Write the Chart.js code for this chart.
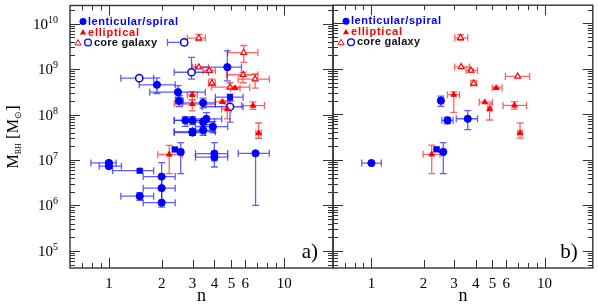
<!DOCTYPE html>
<html>
<head>
<meta charset="utf-8">
<script src="https://cdn.jsdelivr.net/npm/chart.js@4.4.0/dist/chart.umd.min.js"></script>
<style>
  html, body { margin: 0; padding: 0; background: #fff; }
  #wrap { position: relative; width: 598px; height: 305px; }
  #wrap canvas { position: absolute; left: 0; top: 0; }
</style>
</head>
<body>
<div id="wrap">
  <canvas id="panelA" width="598" height="305"></canvas>
  <canvas id="panelB" width="598" height="305"></canvas>
</div>
<script>
// each row: [n, nLo, nHi, M, MLo, MHi]
// panel a
const spiralA = [
  [1.0, 0.79, 1.10, 8.6e6, 7.6e6, 9.6e6],
  [1.0, 0.88, 1.18, 7.3e6, 6.6e6, 8.2e6],
  [1.5, 1.17, 1.80, 1.6e6, 1.3e6, 1.9e6],
  [2.0, 1.57, 2.39, 4.3e6, 2.4e6, 8.7e6],
  [2.0, 1.57, 2.39, 2.4e6, 1.2e6, 4.4e6],
  [2.0, 1.57, 2.39, 1.15e6, 0.92e6, 2.4e6],
  [2.57, 2.50, 2.65, 1.49e7, 5.0e6, 2.4e7],
  [4.0, 3.12, 4.76, 1.38e7, 9.5e6, 2.4e7],
  [4.0, 3.12, 4.76, 1.15e7, 7.0e6, 1.5e7],
  [6.87, 5.47, 8.23, 1.4e7, 1.0e6, 1.45e7],
  [1.88, 1.49, 2.39, 4.5e8, 2.9e8, 6.4e8],
  [2.48, 1.71, 3.55, 3.1e8, 2.4e8, 4.3e8],
  [2.52, 2.40, 2.65, 2.0e8, 1.5e8, 2.6e8],
  [3.45, 2.63, 4.05, 1.8e8, 1.4e8, 2.3e8],
  [4.74, 3.12, 5.71, 1.1e9, 5.5e8, 2.5e9],
  [2.73, 2.36, 3.40, 7.4e7, 5.5e7, 9.0e7],
  [3.0, 2.36, 3.55, 7.4e7, 6.0e7, 9.0e7],
  [3.0, 2.36, 4.05, 4.2e7, 3.5e7, 4.8e7],
  [3.0, 2.36, 3.55, 4.0e7, 3.5e7, 4.6e7],
  [3.45, 3.0, 4.0, 4.5e7, 3.5e7, 5.5e7],
  [3.45, 2.8, 4.0, 6.8e7, 5.5e7, 8.0e7],
  [3.6, 3.0, 4.4, 8.0e7, 6.0e7, 1.1e8],
  [3.92, 3.12, 4.76, 5.4e7, 4.0e7, 7.0e7]
];
const spiralBoxA = [
  [1.5, 1.05, 1.80, 5.8e6, 5.3e6, 6.3e6],
  [2.38, 2.30, 2.45, 1.7e7, 1.6e7, 1.8e7],
  [4.91, 4.05, 5.83, 2.4e8, 2.0e8, 2.8e8]
];
const coreDiskA = [
  [1.49, 1.17, 1.80, 6.3e8, 6.0e8, 6.6e8],
  [2.69, 2.16, 2.80, 3.85e9, 3.7e9, 4.0e9],
  [2.96, 2.36, 3.70, 8.5e8, 6.0e8, 1.8e9],
  [4.91, 3.40, 5.83, 1.48e8, 6.8e7, 2.0e8]
];
const ellipA = [
  [2.21, 1.90, 2.63, 1.32e7, 5.0e6, 2.1e7],
  [2.99, 2.80, 3.20, 2.7e8, 2.1e8, 3.2e8],
  [2.99, 2.36, 4.05, 1.7e8, 1.2e8, 2.1e8],
  [4.45, 4.05, 4.80, 1.9e8, 1.8e8, 2.0e8],
  [4.74, 4.40, 5.00, 1.32e8, 8.0e7, 1.7e8],
  [5.24, 4.95, 5.60, 3.8e8, 3.6e8, 4.0e8],
  [6.64, 5.71, 7.72, 1.57e8, 1.3e8, 1.9e8],
  [7.15, 6.90, 7.40, 3.9e7, 3.0e7, 6.5e7]
];
const coreEllipA = [
  [3.26, 2.80, 3.55, 4.8e9, 4.2e9, 5.8e9],
  [3.26, 3.00, 3.70, 1.1e9, 1.05e9, 1.15e9],
  [3.74, 3.45, 4.05, 9.2e8, 8.5e8, 1.0e9],
  [3.87, 3.70, 4.05, 4.9e8, 4.3e8, 6.0e8],
  [4.91, 3.85, 6.36, 4.0e8, 3.6e8, 5.0e8],
  [5.88, 4.76, 7.08, 2.3e9, 1.4e9, 3.3e9],
  [5.83, 4.70, 7.08, 7.5e8, 5.0e8, 8.5e8],
  [6.83, 5.47, 8.23, 6.0e8, 3.8e8, 7.8e8]
];
// panel b
const spiralB = [
  [1.0, 0.88, 1.14, 8.5e6, 8.5e6, 8.5e6],
  [2.6, 2.55, 2.65, 1.49e7, 5.0e6, 2.4e7],
  [2.52, 2.45, 2.60, 2.0e8, 1.5e8, 2.5e8],
  [2.75, 2.55, 2.96, 7.4e7, 6.2e7, 8.6e7],
  [3.6, 3.09, 4.10, 8.0e7, 4.6e7, 1.2e8]
];
const spiralBoxB = [
  [2.38, 2.30, 2.45, 1.7e7, 1.6e7, 1.8e7]
];
const coreDiskB = [];
const ellipB = [
  [2.23, 1.99, 2.49, 1.32e7, 5.0e6, 2.1e7],
  [2.99, 2.75, 3.23, 2.7e8, 1.1e8, 3.1e8],
  [4.52, 4.20, 4.99, 1.85e8, 1.8e8, 1.9e8],
  [4.82, 4.70, 4.95, 1.32e8, 7.5e7, 1.7e8],
  [5.26, 4.99, 5.68, 3.8e8, 3.6e8, 4.0e8],
  [6.7, 5.76, 7.87, 1.57e8, 1.3e8, 1.9e8],
  [7.22, 7.00, 7.45, 3.9e7, 3.0e7, 6.5e7]
];
const coreEllipB = [
  [3.27, 3.03, 3.60, 4.8e9, 4.2e9, 5.6e9],
  [3.3, 3.03, 3.68, 1.1e9, 1.05e9, 1.15e9],
  [3.76, 3.52, 4.10, 9.2e8, 8.5e8, 1.0e9],
  [3.9, 3.75, 4.05, 4.8e8, 4.3e8, 5.6e8],
  [7.0, 5.94, 8.20, 6.8e8, 6.5e8, 7.1e8]
];

const nTicks = [1, 2, 3, 4, 5, 6, 10];
const mExponents = [5, 6, 7, 8, 9, 10];
const nRange = [0.63, 19];
const mRange = [4.2e4, 2.5e10];

const BLUE = '#0000ff', RED = '#ff0000';
const BLUE_ERR = 'rgba(30,30,255,0.72)', RED_ERR = 'rgba(255,40,40,0.72)';
const INK = '#333';

function makeSets(spiral, spiralBox, coreDisk, ellip, coreEllip) {
  const pts = rows => rows.map(r => ({ x: r[0], y: r[3] }));
  return [
    { rows: ellip, errColor: RED_ERR, data: pts(ellip), pointStyle: 'triangle', pointRadius: 3.2,
      backgroundColor: RED, borderColor: RED, borderWidth: 1 },
    { rows: coreEllip, errColor: RED_ERR, data: pts(coreEllip), pointStyle: 'triangle', pointRadius: 3.4,
      backgroundColor: '#fff', borderColor: RED, borderWidth: 1.2 },
    { rows: spiral, errColor: BLUE_ERR, data: pts(spiral), pointStyle: 'circle', pointRadius: 3.6,
      backgroundColor: BLUE, borderColor: BLUE, borderWidth: 1 },
    { rows: spiralBox, errColor: BLUE_ERR, data: pts(spiralBox), pointStyle: 'rect', pointRadius: 3.6,
      backgroundColor: BLUE, borderColor: BLUE, borderWidth: 1 },
    { rows: coreDisk, errColor: BLUE_ERR, data: pts(coreDisk), pointStyle: 'circle', pointRadius: 3.6,
      backgroundColor: '#fff', borderColor: BLUE, borderWidth: 1.5 }
  ];
}

function tri(ctx, x, y, r, fill) {
  ctx.beginPath();
  ctx.moveTo(x, y - r);
  ctx.lineTo(x + r * 0.9, y + r * 0.6);
  ctx.lineTo(x - r * 0.9, y + r * 0.6);
  ctx.closePath();
  if (fill) ctx.fill(); else ctx.stroke();
}

// legend text spread to the width it has in the original, one glyph at a time
function spacedText(ctx, text, x, y, width) {
  const w = ctx.measureText(text).width;
  const extra = Math.max(0, (width - w) / (text.length - 1));
  let cx = x;
  for (const ch of text) {
    ctx.fillText(ch, cx, y);
    cx += ctx.measureText(ch).width + extra;
  }
}

const panelPlugin = {
  id: 'panel',
  beforeDatasetsDraw(chart) {
    const { ctx, scales: { x, y } } = chart;
    ctx.save();
    ctx.lineWidth = 1.3;
    chart.data.datasets.forEach(ds => {
      ctx.strokeStyle = ds.errColor;
      ds.rows.forEach(r => {
        const px = x.getPixelForValue(r[0]), py = y.getPixelForValue(r[3]);
        const x1 = x.getPixelForValue(r[1]), x2 = x.getPixelForValue(r[2]);
        const y1 = y.getPixelForValue(r[4]), y2 = y.getPixelForValue(r[5]);
        ctx.beginPath();
        if (x2 - x1 > 2) {
          ctx.moveTo(x1, py); ctx.lineTo(x2, py);
          ctx.moveTo(x1, py - 3.5); ctx.lineTo(x1, py + 3.5);
          ctx.moveTo(x2, py - 3.5); ctx.lineTo(x2, py + 3.5);
        }
        if (y1 - y2 > 2) {
          ctx.moveTo(px, y1); ctx.lineTo(px, y2);
          ctx.moveTo(px - 3.5, y1); ctx.lineTo(px + 3.5, y1);
          ctx.moveTo(px - 3.5, y2); ctx.lineTo(px + 3.5, y2);
        }
        ctx.stroke();
      });
    });
    ctx.restore();
  },
  afterDraw(chart, args, opts) {
    const { ctx, chartArea: a, scales: { x, y } } = chart;
    ctx.save();
    // frame
    ctx.strokeStyle = INK;
    ctx.lineWidth = 1.4;
    ctx.strokeRect(a.left, a.top, a.right - a.left, a.bottom - a.top);
    // ticks, inward on all sides
    ctx.lineWidth = 1;
    ctx.beginPath();
    for (let d = -1; d <= 1; d++) {
      for (let k = 1; k <= 9; k++) {
        const v = k * Math.pow(10, d);
        if (v < nRange[0] || v > nRange[1]) continue;
        const px = Math.round(x.getPixelForValue(v)) + 0.5;
        const bottomLen = k === 1 ? 10 : (nTicks.includes(v) ? 8 : 5);
        const topLen = k === 1 ? 10 : 5;
        ctx.moveTo(px, a.bottom); ctx.lineTo(px, a.bottom - bottomLen);
        ctx.moveTo(px, a.top); ctx.lineTo(px, a.top + topLen);
      }
    }
    for (let d = 4; d <= 10; d++) {
      for (let k = 1; k <= 9; k++) {
        const v = k * Math.pow(10, d);
        if (v < mRange[0] || v > mRange[1]) continue;
        const py = Math.round(y.getPixelForValue(v)) + 0.5;
        const len = k === 1 ? 10 : 5;
        ctx.moveTo(a.left, py); ctx.lineTo(a.left + len, py);
        ctx.moveTo(a.right, py); ctx.lineTo(a.right - len, py);
      }
    }
    ctx.stroke();

    // x tick labels
    ctx.fillStyle = '#000';
    ctx.font = '15px "Liberation Serif"';
    ctx.textAlign = 'center';
    ctx.textBaseline = 'alphabetic';
    nTicks.forEach(v => ctx.fillText(String(v), x.getPixelForValue(v), a.bottom + 20));
    ctx.font = '18px "Liberation Serif"';
    ctx.fillText('n', (a.left + a.right) / 2, a.bottom + 33);

    // panel tag
    ctx.textAlign = 'right';
    ctx.font = '21px "Liberation Serif"';
    ctx.fillText(opts.tag, a.right - 15, a.bottom - 10);

    if (opts.yLabels) {
      mExponents.forEach(e => {
        const py = y.getPixelForValue(Math.pow(10, e));
        ctx.font = '10px "Liberation Serif"';
        ctx.textAlign = 'right';
        const ew = ctx.measureText(String(e)).width;
        ctx.fillText(String(e), a.left - 12, py - 1);
        ctx.font = '15px "Liberation Serif"';
        ctx.fillText('10', a.left - 12 - ew, py + 5);
      });
      // axis title M_BH [M_sun]
      ctx.save();
      ctx.translate(18, 137);
      ctx.rotate(-Math.PI / 2);
      const parts = [['M', 16, 0], ['BH', 8, 3], [' [', 17, 0], ['M', 16, 0], ['\u2299', 9, 3], [']', 17, 0]];
      let w = 0;
      parts.forEach(p => { ctx.font = p[1] + 'px "Liberation Serif"'; w += ctx.measureText(p[0]).width; });
      let cx = -w / 2;
      ctx.textAlign = 'left';
      parts.forEach(p => {
        ctx.font = p[1] + 'px "Liberation Serif"';
        ctx.fillText(p[0], cx, p[2]);
        cx += ctx.measureText(p[0]).width;
      });
      ctx.restore();
    }

    // legend
    const lx = a.left;
    ctx.textAlign = 'left';
    ctx.textBaseline = 'middle';
    ctx.font = 'bold 11px "Liberation Sans"';
    ctx.fillStyle = BLUE;
    ctx.beginPath(); ctx.arc(lx + 13, a.top + 16, 3.5, 0, Math.PI * 2); ctx.fill();
    spacedText(ctx, 'lenticular/spiral', lx + 18, a.top + 16, 90);
    ctx.fillStyle = RED;
    tri(ctx, lx + 13, a.top + 27, 3.4, true);
    spacedText(ctx, 'elliptical', lx + 18, a.top + 27, 51);
    ctx.strokeStyle = RED; ctx.lineWidth = 1;
    tri(ctx, lx + 8, a.top + 37.5, 3.4, false);
    ctx.strokeStyle = BLUE; ctx.lineWidth = 1.3;
    ctx.beginPath(); ctx.arc(lx + 18, a.top + 37, 3.4, 0, Math.PI * 2); ctx.stroke();
    ctx.fillStyle = '#111';
    spacedText(ctx, 'core galaxy', lx + 24, a.top + 37, 63);
    ctx.restore();
  }
};

function makePanel(id, sets, pad, opts) {
  return new Chart(document.getElementById(id), {
    type: 'scatter',
    data: { datasets: sets },
    options: {
      responsive: false,
      devicePixelRatio: 1,
      animation: false,
      layout: { padding: pad },
      plugins: { legend: { display: false }, tooltip: { enabled: false }, panel: opts },
      scales: {
        x: { type: 'logarithmic', min: nRange[0], max: nRange[1], display: false },
        y: { type: 'logarithmic', min: mRange[0], max: mRange[1], display: false }
      }
    },
    plugins: [panelPlugin]
  });
}

makePanel('panelA', makeSets(spiralA, spiralBoxA, coreDiskA, ellipA, coreEllipA),
  { left: 70, right: 265, top: 5, bottom: 37 }, { tag: 'a)', yLabels: true });
makePanel('panelB', makeSets(spiralB, spiralBoxB, coreDiskB, ellipB, coreEllipB),
  { left: 333, right: 3, top: 5, bottom: 37 }, { tag: 'b)', yLabels: false });
</script>
</body>
</html>
